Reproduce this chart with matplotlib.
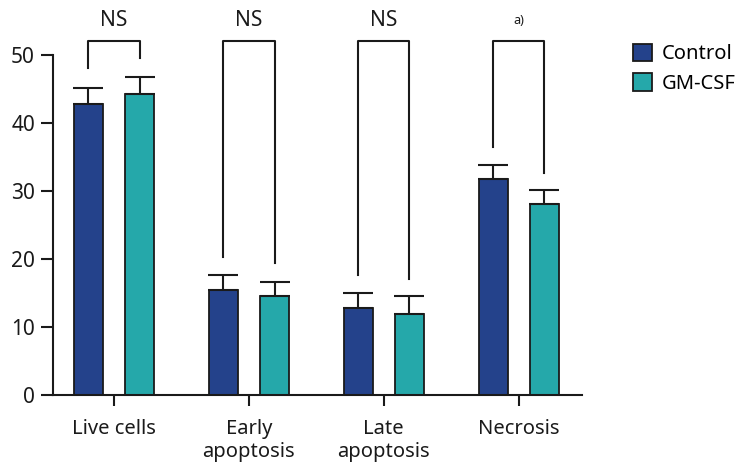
import matplotlib.pyplot as plt
import numpy as np

categories = ["Live cells", "Early\napoptosis", "Late\napoptosis", "Necrosis"]
control = [42.8, 15.5, 12.8, 31.8]
control_err = [2.4, 2.1, 2.2, 2.0]
gmcsf = [44.3, 14.5, 11.9, 28.1]
gmcsf_err = [2.5, 2.1, 2.6, 2.0]
labels = ["NS", "NS", "NS", "a)"]
# bracket: top, left leg bottom, right leg bottom
bracket_top = 52.1
left_leg = [48.0, 20.3, 17.6, 36.4]
right_leg = [49.5, 19.4, 17.0, 32.7]

plt.rcParams['font.family'] = ['Noto Sans', 'DejaVu Sans']

fig = plt.figure(figsize=(7.42, 4.71), dpi=100)
ax = fig.add_axes([0.0714, 0.1614, 0.7126, 0.8174])

x = np.arange(len(categories))
w = 0.215
off = 0.19
c1 = "#24428b"
c2 = "#25a8aa"

ax.bar(x - off, control, w, color=c1, edgecolor="#1a1a1a", linewidth=1.3, label="Control")
ax.bar(x + off, gmcsf, w, color=c2, edgecolor="#1a1a1a", linewidth=1.3, label="GM-CSF")
ax.errorbar(x - off, control, yerr=[np.zeros(4), control_err], fmt="none",
            ecolor="#1a1a1a", elinewidth=1.5, capsize=11, capthick=1.5)
ax.errorbar(x + off, gmcsf, yerr=[np.zeros(4), gmcsf_err], fmt="none",
            ecolor="#1a1a1a", elinewidth=1.5, capsize=11, capthick=1.5)

for i in range(len(categories)):
    ax.plot([x[i] - off, x[i] - off, x[i] + off, x[i] + off],
            [left_leg[i], bracket_top, bracket_top, right_leg[i]],
            color="#1a1a1a", lw=1.5, clip_on=False)
    fs = 15 if labels[i] == "NS" else 9
    ax.text(x[i], 55.0, labels[i], ha="center", va="center", fontsize=fs, color="#1a1a1a")

ax.set_xlim(-0.452, 3.467)
ax.set_ylim(0, 56.6)
ax.set_yticks([0, 10, 20, 30, 40, 50])
ax.set_xticks(x)
ax.set_xticklabels(categories, fontsize=14.5, color="#1a1a1a", linespacing=1.25)
ax.tick_params(axis="y", labelsize=15, colors="#1a1a1a", length=9, width=1.5, pad=4)
ax.tick_params(axis="x", length=8, width=1.5, colors="#1a1a1a", pad=9)
ax.spines["top"].set_visible(False)
ax.spines["right"].set_visible(False)
ax.spines["left"].set_bounds(0, 50)
for s in ["left", "bottom"]:
    ax.spines[s].set_linewidth(1.5)
    ax.spines[s].set_color("#1a1a1a")

ax.legend(loc="upper left", bbox_to_anchor=(0.853, 0.907), bbox_transform=fig.transFigure,
          frameon=False, fontsize=14.5, handlelength=0.95, handleheight=0.95,
          handletextpad=0.5, labelspacing=0.45, borderaxespad=0, borderpad=0)

fig.savefig("out.png", dpi=100)
